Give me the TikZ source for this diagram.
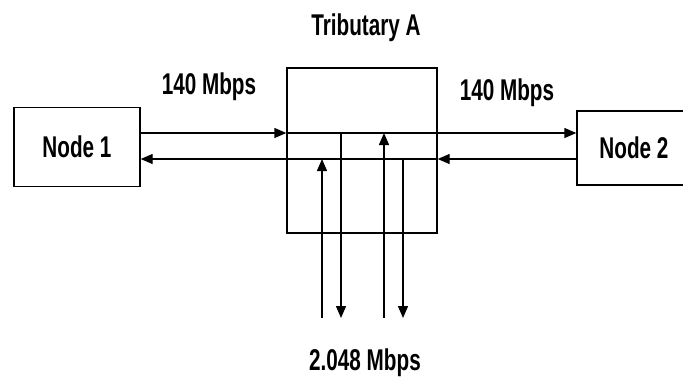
\documentclass[tikz,border=0pt]{standalone}
\usepackage{fontspec}
\setmainfont{Liberation Sans}[FakeStretch=0.69]
\usepackage{tikz}
\usetikzlibrary{arrows.meta, positioning}
\tikzstyle{arr} = [line width=1.4pt, -{Triangle[length=12pt,width=10pt]}]

\begin{document}
\begin{tikzpicture}[
        x=1pt, y=-1pt,
        every node/.style={font=\fontsize{30}{31}\selectfont\bfseries},
        box/.style={rectangle, draw, line width=1.4pt, inner sep=0pt,
            text centered},
        lbl/.style={inner sep=0pt}
    ]
    \useasboundingbox (0,0) rectangle (683,386);
    \node (node1) [box, minimum width=126pt, minimum height=79pt] at (77,147) {Node 1};
    \node (trib)  [box, minimum width=150pt, minimum height=165pt] at (362,150.5) {};
    \node (node2) [box, minimum width=114pt, minimum height=74pt] at (634,148) {Node 2};
    \node (tname) [lbl] at (366,28)  {Tributary A};
    \node (rate1) [lbl] at (209,87)  {140 Mbps};
    \node (rate2) [lbl] at (507,93)  {140 Mbps};
    \node (rate3) [lbl] at (365,363) {2.048 Mbps};
    \coordinate (hi) at (0,133);
    \coordinate (lo) at (0,159);
    \coordinate (b1) at (322,318);
    \coordinate (b2) at (341,318);
    \coordinate (b3) at (384,318);
    \coordinate (b4) at (403,318);
    \draw [arr] (node1.east |- hi) -- (trib.west |- hi);
    \draw [arr] (trib.west |- hi)  -- (node2.west |- hi);
    \draw [arr] (node2.west |- lo) -- (trib.east |- lo);
    \draw [arr] (trib.east |- lo)  -- (node1.east |- lo);
    \draw [arr] (b1) -- (b1 |- lo);
    \draw [arr] (b2 |- hi) -- (b2);
    \draw [arr] (b3) -- (b3 |- hi);
    \draw [arr] (b4 |- lo) -- (b4);
\end{tikzpicture}
\end{document}
